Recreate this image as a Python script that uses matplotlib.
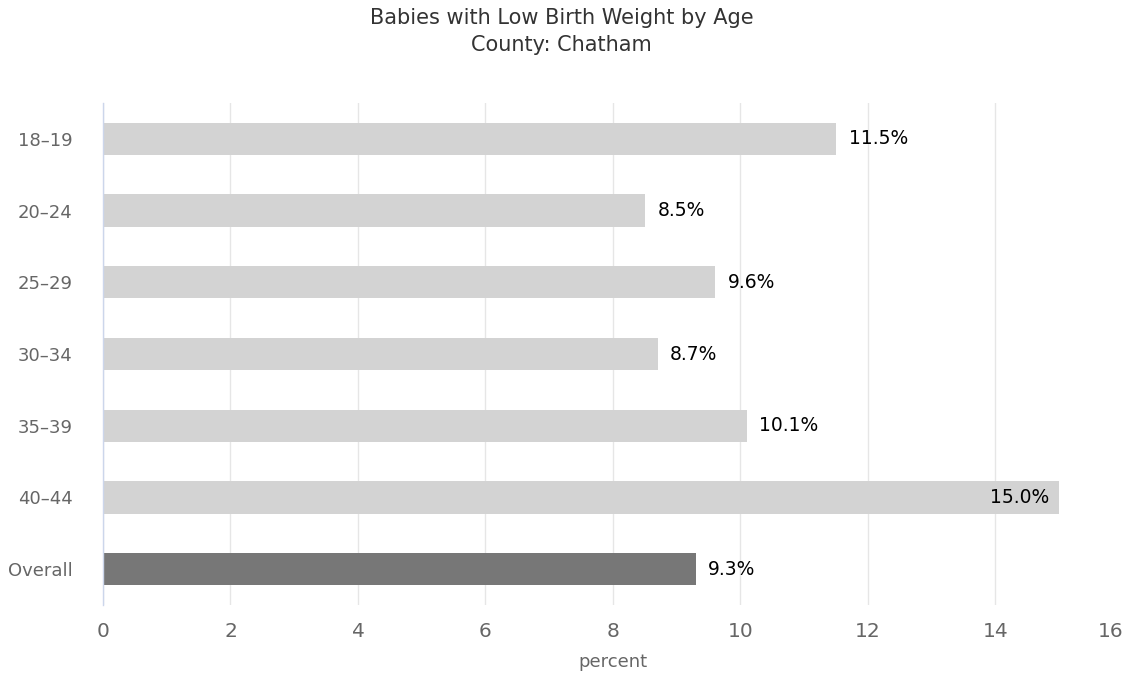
import matplotlib
matplotlib.use("Agg")
import matplotlib.pyplot as plt

ages = ["18–19", "20–24", "25–29", "30–34", "35–39", "40–44", "Overall"]
pct = [11.5, 8.5, 9.6, 8.7, 10.1, 15.0, 9.3]
colors = ["#d3d3d3"] * 6 + ["#777777"]

plt.rcParams['font.family'] = ['DejaVu Sans']

fig = plt.figure(figsize=(11.23, 6.75), dpi=100)
ax = fig.add_axes([0.0917, 0.1037, 0.9083, 0.7437])

ypos = list(range(len(ages)))
ax.barh(ypos, pct, height=0.45, color=colors, zorder=2)

for y, v in zip(ypos, pct):
    txt = "%.1f%%" % v
    if v > 14:
        ax.annotate(txt, (v, y), xytext=(-7, 0), textcoords="offset points",
                    ha="right", va="center", fontsize=13.5, color="black", zorder=3)
    else:
        ax.annotate(txt, (v, y), xytext=(9, 0), textcoords="offset points",
                    ha="left", va="center", fontsize=13.5, color="black", zorder=3)

ax.set_xlim(0, 16)
ax.set_ylim(6.5, -0.5)
ax.set_xticks(range(0, 17, 2))
ax.set_yticks(ypos)
ax.set_yticklabels(ages)
ax.grid(axis="x", color="#e6e6e6", linewidth=1, zorder=0)
ax.set_axisbelow(True)
ax.get_xgridlines()[-1].set_visible(False)

for s in ["top", "right", "bottom"]:
    ax.spines[s].set_visible(False)
ax.spines["left"].set_color("#ccd6eb")
ax.spines["left"].set_linewidth(1)

ax.tick_params(axis="x", length=0, labelsize=14.5, colors="#666666", pad=12)
ax.tick_params(axis="y", length=0, labelsize=13, colors="#666666", pad=22)
ax.get_xticklabels()[-1].set_horizontalalignment("right")

ax.set_xlabel("percent", fontsize=13, color="#666666", labelpad=9)
fig.suptitle("Babies with Low Birth Weight by Age\nCounty: Chatham",
             fontsize=15, color="#333333", y=0.988, linespacing=1.45)

fig.savefig("out.png", dpi=100)
